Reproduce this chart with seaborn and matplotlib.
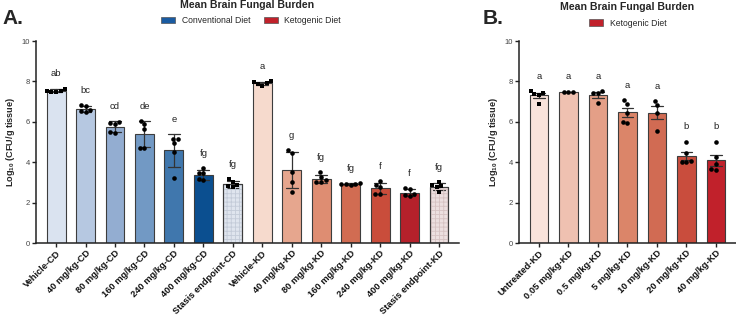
import matplotlib
matplotlib.use('Agg')
import matplotlib.pyplot as plt
import seaborn as sns
import pandas as pd
import numpy as np
from matplotlib.patches import Patch, Rectangle

sns.set_theme(style='ticks')
plt.rcParams['font.family'] = ['Liberation Sans', 'DejaVu Sans']
plt.rcParams['mathtext.fontset'] = 'custom'
plt.rcParams['mathtext.rm'] = 'Liberation Sans:bold'
plt.rcParams['mathtext.bf'] = 'Liberation Sans:bold'
plt.rcParams['mathtext.it'] = 'Liberation Sans:bold:italic'
plt.rcParams['hatch.linewidth'] = 0.6

# ---------------- Panel A data ----------------
a_groups = ['Vehicle-CD', '40 mg/kg-CD', '80 mg/kg-CD', '160 mg/kg-CD', '240 mg/kg-CD',
            '400 mg/kg-CD', 'Stasis endpoint-CD', 'Vehicle-KD', '40 mg/kg-KD', '80 mg/kg-KD',
            '160 mg/kg-KD', '240 mg/kg-KD', '400 mg/kg-KD', 'Stasis endpoint-KD']
a_values = [
    [7.65, 7.50, 7.52, 7.50, 7.55],
    [6.80, 6.82, 6.55, 6.60, 6.50],
    [6.00, 5.95, 5.90, 5.45, 5.50],
    [6.04, 5.89, 5.64, 4.72, 4.72],
    [5.15, 5.15, 4.93, 4.50, 3.23],
    [3.70, 3.45, 3.48, 3.15, 3.12],
    [3.15, 3.00, 2.85, 2.80, 2.75],
    [8.00, 7.98, 7.80, 7.85, 7.90],
    [4.60, 4.44, 3.53, 3.03, 2.52],
    [3.50, 3.28, 3.12, 3.03, 3.03],
    [2.98, 2.90, 2.88, 2.90, 2.92],
    [3.05, 2.85, 2.75, 2.45, 2.45],
    [2.70, 2.66, 2.41, 2.38, 2.34],
    [3.00, 2.85, 2.80, 2.75, 2.55],
]
a_letters = ['ab', 'bc', 'cd', 'de', 'e', 'fg', 'fg', 'a', 'g', 'fg', 'fg', 'f', 'f', 'fg']
a_colors = ['#dae3f0', '#b6c8e1', '#93add1', '#7299c4', '#4077ad', '#0b4f90', '#dfe5ee',
            '#f6dacd', '#e6a68e', '#de8d72', '#d16c52', '#c94d3b', '#b5212b', '#ecdfdf']
a_square_groups = ['Vehicle-CD', 'Stasis endpoint-CD', 'Vehicle-KD', 'Stasis endpoint-KD']
a_hatched = {'Stasis endpoint-CD': '#c3cbd8', 'Stasis endpoint-KD': '#d6c2c2'}

# ---------------- Panel B data ----------------
b_groups = ['Untreated-KD', '0.05 mg/kg-KD', '0.5 mg/kg-KD', '5 mg/kg-KD',
            '10 mg/kg-KD', '20 mg/kg-KD', '40 mg/kg-KD']
b_values = [
    [7.43, 7.52, 7.37, 7.35, 6.87],
    [7.50, 7.48, 7.50],
    [7.52, 7.43, 7.43, 6.95],
    [7.07, 6.90, 6.45, 5.95, 5.98],
    [7.02, 6.82, 6.43, 5.57],
    [5.02, 4.48, 4.07, 4.03, 4.02],
    [5.02, 4.28, 3.90, 3.62, 3.65],
]
b_letters = ['a', 'a', 'a', 'a', 'a', 'b', 'b']
b_colors = ['#f9e3db', '#efc1b1', '#e49f87', '#db8569', '#d16b53', '#c94d3d', '#c1212b']
b_square_groups = ['Untreated-KD']

legend_a_labels = ['Conventional Diet', 'Ketogenic Diet']
legend_a_colors = ['#1a5ba1', '#c1212b']
legend_b_labels = ['Ketogenic Diet']
legend_b_colors = ['#c1212b']
title = 'Mean Brain Fungal Burden'


def long_df(groups, values, squares):
    rows = []
    for g, vs in zip(groups, values):
        for v in vs:
            rows.append({'group': g, 'value': v, 'shape': 's' if g in squares else 'o'})
    return pd.DataFrame(rows)


dfA = long_df(a_groups, a_values, a_square_groups)
dfB = long_df(b_groups, b_values, b_square_groups)

fig = plt.figure(figsize=(7.36, 3.16), dpi=100)
axA = fig.add_axes([0.049, 0.231, 0.5747, 0.639])
axB = fig.add_axes([0.705, 0.231, 0.295, 0.639])


def draw_panel(ax, df, groups, colors, letters, errorbar, hatched, letter_off):
    sns.barplot(data=df, x='group', y='value', order=groups, hue='group', hue_order=groups,
                palette=dict(zip(groups, colors)), saturation=1, errorbar=errorbar,
                capsize=0.4, err_kws={'linewidth': 0.9, 'color': '#333333'},
                edgecolor='#3d3d3d', linewidth=0.8, width=0.64, legend=False, ax=ax, zorder=2)
    # hatch overlays
    for p in list(ax.patches):
        xc = p.get_x() + p.get_width() / 2
        idx = int(round(xc))
        if 0 <= idx < len(groups) and groups[idx] in hatched:
            r = Rectangle((p.get_x(), 0), p.get_width(), p.get_height(), facecolor='none',
                          edgecolor=hatched[groups[idx]], hatch='++++', linewidth=0, zorder=2.1)
            ax.add_patch(r)
            r2 = Rectangle((p.get_x(), 0), p.get_width(), p.get_height(), facecolor='none',
                           edgecolor='#3d3d3d', linewidth=0.8, zorder=2.2)
            ax.add_patch(r2)
    for shp in ['s', 'o']:
        sub = df[df['shape'] == shp]
        if len(sub):
            sns.swarmplot(data=sub, x='group', y='value', order=groups, color='black',
                          marker=shp, size=3.3, ax=ax, zorder=4, linewidth=0)
    for i, g in enumerate(groups):
        vs = np.array(df.loc[df['group'] == g, 'value'])
        m = vs.mean()
        e = vs.std(ddof=1) if errorbar == 'sd' else vs.std(ddof=1) / np.sqrt(len(vs))
        top = max(vs.max(), m + e)
        ax.text(i, top + letter_off, letters[i], ha='center', va='center', fontsize=6.8,
                color='#222222')
    ax.set_ylim(0, 10)
    ax.set_xlim(-0.68, len(groups) - 0.32)
    ax.set_yticks([0, 2, 4, 6, 8, 10])
    ax.set_xlabel('')
    ax.set_ylabel(r'Log$_{\mathrm{10}}$ (CFU/g tissue)', fontsize=6.6, fontweight='bold',
                  labelpad=3)
    sns.despine(ax=ax)
    for s in ['left', 'bottom']:
        ax.spines[s].set_linewidth(1.1)
        ax.spines[s].set_color('#222222')
    ax.tick_params(axis='y', labelsize=5.5, length=3, width=1, colors='#222222',
                   labelcolor='#444444', pad=1.5)
    ax.tick_params(axis='x', length=3, width=1, colors='#222222', pad=1)
    ax.set_xticks(range(len(groups)))
    ax.set_xticklabels(groups, rotation=45, ha='right', rotation_mode='anchor',
                       fontsize=6.7, fontweight='bold', color='#111111')


draw_panel(axA, dfA, a_groups, a_colors, a_letters, 'sd', a_hatched, 0.72)
draw_panel(axB, dfB, b_groups, b_colors, b_letters, 'se', {}, 0.75)

fig.text(0.336, 0.985, title, ha='center', va='center', fontsize=7.6, fontweight='bold')
fig.text(0.852, 0.979, title, ha='center', va='center', fontsize=7.6, fontweight='bold')
fig.text(0.003, 0.940, 'A.', ha='left', va='center', fontsize=15, fontweight='bold')
fig.text(0.656, 0.940, 'B.', ha='left', va='center', fontsize=15, fontweight='bold')

hA = [Patch(facecolor=c, edgecolor='#555555', linewidth=0.5) for c in legend_a_colors]
fig.legend(hA, legend_a_labels, loc='center', bbox_to_anchor=(0.341, 0.935), ncol=2,
           frameon=False, fontsize=6.2, handlelength=1.6, handleheight=0.75,
           handletextpad=0.8, columnspacing=1.6, borderpad=0)
hB = [Patch(facecolor=c, edgecolor='#555555', linewidth=0.5) for c in legend_b_colors]
fig.legend(hB, legend_b_labels, loc='center', bbox_to_anchor=(0.853, 0.927), ncol=1,
           frameon=False, fontsize=6.2, handlelength=1.6, handleheight=0.75,
           handletextpad=0.8, borderpad=0)

fig.savefig('out.png', dpi=100)
